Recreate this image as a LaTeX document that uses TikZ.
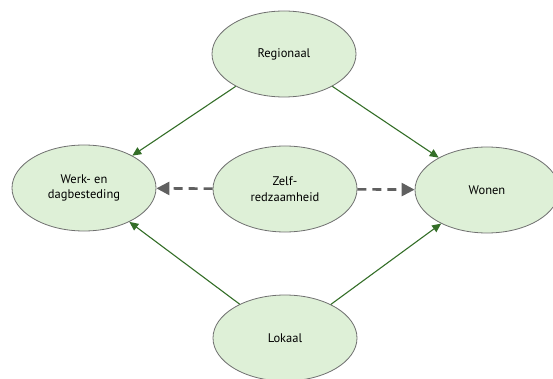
\documentclass[tikz,border=0pt]{standalone}
\usepackage{fontspec}
\setmainfont{PT Sans}
\usetikzlibrary{arrows.meta,shapes.geometric}
\definecolor{leaf}{RGB}{222,240,215}
\definecolor{rim}{RGB}{112,112,112}
\definecolor{darkgreen}{RGB}{52,110,40}
\definecolor{dashgray}{RGB}{96,96,96}

\begin{document}
\begin{tikzpicture}[x=1pt,y=-1pt,font=\fontsize{12.5}{15.5}\selectfont,
  area/.style={ellipse, draw=rim, fill=leaf, line width=0.8pt, minimum width=144pt, minimum height=86pt, align=center, inner sep=0pt},
  link/.style={-{Triangle[length=9pt,width=8pt]}, line width=1.1pt, darkgreen},
  hint/.style={-{Triangle[length=13pt,width=13pt]}, line width=2.6pt, dashgray, dash pattern=on 9pt off 6pt}]
\useasboundingbox (0,0) rectangle (553,379);
\node[area] (reg) at (284,54) {Regionaal};
\node[area] (werk) at (84,188) {Werk- en\\dagbesteding};
\node[area] (zelf) at (285,189) {Zelf-\\redzaamheid};
\node[area] (won) at (487,190) {Wonen};
\node[area] (lok) at (285,338) {Lokaal};
\draw[link] (reg)--(werk);
\draw[link] (reg)--(won);
\draw[link] (lok)--(werk);
\draw[link] (lok)--(won);
\draw[hint] (zelf)--(werk);
\draw[hint] (zelf)--(won);
\end{tikzpicture}
\end{document}
